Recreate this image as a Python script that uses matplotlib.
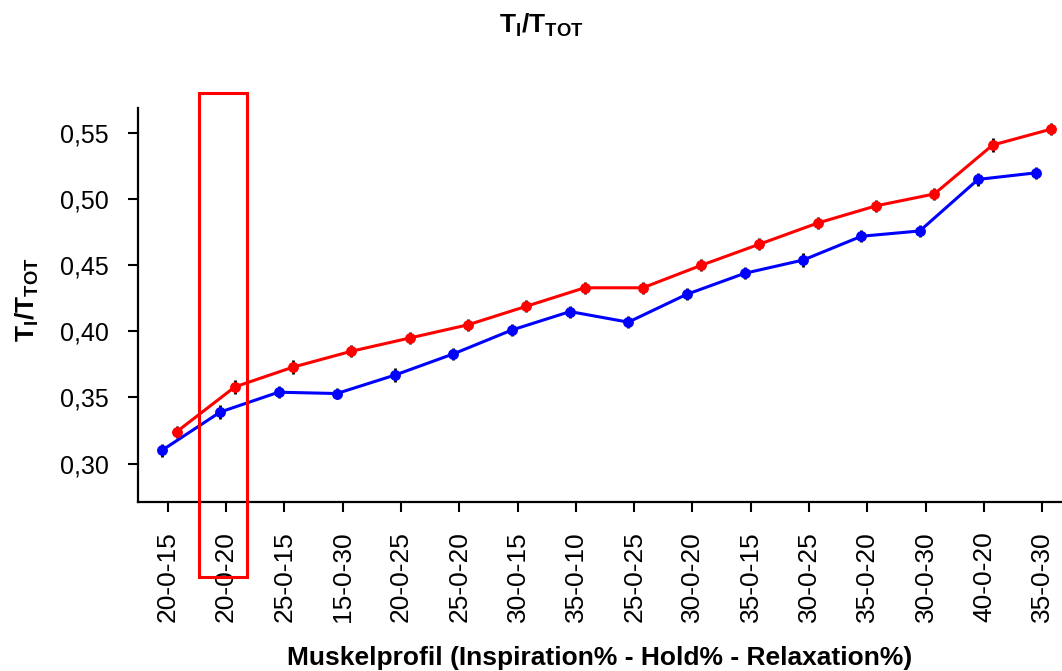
import matplotlib
matplotlib.use("Agg")
import numpy as np
from matplotlib import pyplot as plt
from matplotlib.patches import Rectangle

plt.rcParams["font.family"] = ["Liberation Sans", "DejaVu Sans"]
plt.rcParams["mathtext.fontset"] = "custom"
plt.rcParams["mathtext.rm"] = "Liberation Sans"
plt.rcParams["mathtext.bf"] = "Liberation Sans:bold"

profiles = ["20-0-15", "20-0-20", "25-0-15", "15-0-30", "20-0-25", "25-0-20",
            "30-0-15", "35-0-10", "25-0-25", "30-0-20", "35-0-15", "30-0-25",
            "35-0-20", "30-0-30", "40-0-20", "35-0-30"]
blue_vals = [0.310, 0.339, 0.354, 0.353, 0.367, 0.383, 0.401, 0.415,
             0.407, 0.428, 0.444, 0.454, 0.472, 0.476, 0.515, 0.520]
red_vals = [0.324, 0.358, 0.373, 0.385, 0.395, 0.405, 0.419, 0.433,
            0.433, 0.450, 0.466, 0.482, 0.495, 0.504, 0.541, 0.553]
blue_err = [0.005, 0.005, 0.0045, 0.0045, 0.005, 0.0045, 0.0045, 0.0045,
            0.0045, 0.0045, 0.0045, 0.005, 0.0045, 0.0045, 0.005, 0.0045]
red_err = [0.0045, 0.005, 0.005, 0.0045, 0.0045, 0.0045, 0.0045, 0.0045,
           0.0045, 0.0045, 0.0045, 0.0045, 0.0045, 0.0045, 0.005, 0.0045]
highlight = "20-0-20"

label = r"$\mathbf{T_I/T_{TOT}}$"

fig = plt.figure(figsize=(10.62, 6.71), dpi=100)
ax = fig.add_axes([0.130, 0.252, 0.870, 0.587])

x = np.arange(len(profiles))
for vals, err, col, dx in [(blue_vals, blue_err, "blue", -0.1),
                           (red_vals, red_err, "red", 0.15)]:
    ax.errorbar(x + dx, vals, yerr=err, fmt="none", ecolor="black",
                elinewidth=2, capsize=0, zorder=2)
    ax.plot(x + dx, vals, color=col, lw=2.2, marker="o", ms=6.8, zorder=3)

ax.set_xlim(-0.51, 15.34)
ax.set_ylim(0.271, 0.569)
ax.set_yticks([0.30, 0.35, 0.40, 0.45, 0.50, 0.55])
ax.set_yticklabels([f"{v:.2f}".replace(".", ",") for v in ax.get_yticks()])
ax.set_xticks(x)
ax.set_xticklabels(profiles, rotation=90)
ax.tick_params(axis="both", length=7, width=1.5, pad=14)
ax.tick_params(axis="y", labelsize=18)
ax.tick_params(axis="x", labelsize=19)

for side in ["top", "right"]:
    ax.spines[side].set_visible(False)
for side in ["left", "bottom"]:
    ax.spines[side].set_linewidth(1.6)

ax.set_xlabel("Muskelprofil (Inspiration% - Hold% - Relaxation%)",
              fontsize=19, fontweight="bold", va="center")
ax.xaxis.set_label_coords(0.5, -0.396)
ax.set_ylabel(label, fontsize=19, va="center")
ax.yaxis.set_label_coords(-0.12, 0.513)
fig.text(0.51, 1 - 25 / 671, label, fontsize=19, ha="center", va="center")

i = profiles.index(highlight)
ax.add_patch(Rectangle((i - 0.463, 0.214), 0.82, 0.366, fill=False,
                       edgecolor="red", lw=2.2, clip_on=False, zorder=5))

fig.savefig("out.png", dpi=100)
